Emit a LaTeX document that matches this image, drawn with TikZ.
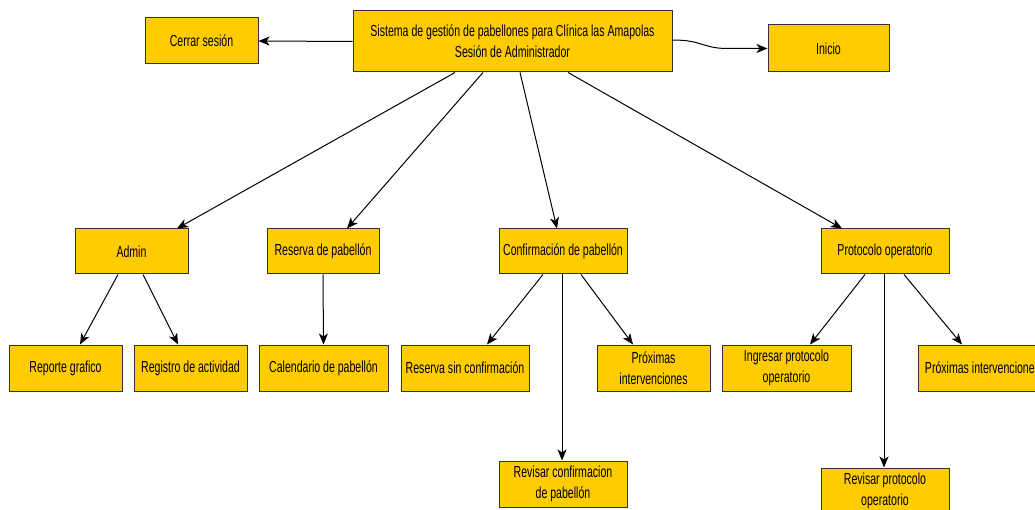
\documentclass[tikz,border=0pt]{standalone}
\usepackage{fontspec}
\setmainfont{Liberation Sans}[FakeStretch=0.66]
\usetikzlibrary{arrows.meta}
\definecolor{boxyellow}{HTML}{FFCC00}
\definecolor{boxline}{HTML}{333333}
\tikzset{
  box/.style={draw=boxline, line width=1pt, fill=boxyellow, rectangle, inner sep=0pt,
    align=center, font=\fontsize{16}{21}\selectfont, text=black},
  conn/.style={draw=black, line width=1pt, -{Stealth[length=11pt,width=9pt,inset=3pt]}}
}
\begin{document}
\begin{tikzpicture}[x=1pt,y=-1pt]
\useasboundingbox (0,0) rectangle (1035,510);
\clip (0,0) rectangle (1035,510);
% top level
\node[box, minimum width=319pt, minimum height=61pt] (main) at (512.5,41.5)
  {Sistema de gestión de pabellones para Clínica las Amapolas\\Sesión de Administrador};
\node[box, minimum width=113pt, minimum height=46pt] (cerrar) at (201.5,41) {Cerrar sesión};
\node[box, minimum width=121pt, minimum height=47pt] (inicio) at (828.5,48.5) {Inicio};
% second level
\node[box, minimum width=113pt, minimum height=45pt] (admin) at (131.5,251.5) {Admin};
\node[box, minimum width=112pt, minimum height=45pt] (reserva) at (323,251.5) {Reserva de pabellón};
\node[box, minimum width=128pt, minimum height=45pt] (confirm) at (563,251.5) {Confirmación de pabellón};
\node[box, minimum width=128pt, minimum height=45pt] (protocolo) at (885,251.5) {Protocolo operatorio};
% third level
\node[box, minimum width=113pt, minimum height=46pt] (reporte) at (65.5,368) {Reporte grafico};
\node[box, minimum width=113pt, minimum height=46pt] (registro) at (190.5,368) {Registro de actividad};
\node[box, minimum width=129pt, minimum height=46pt] (calendario) at (323.5,368) {Calendario de pabellón};
\node[box, minimum width=128pt, minimum height=46pt] (reservasin) at (465,368) {Reserva sin confirmación};
\node[box, minimum width=113pt, minimum height=46pt] (proximasA) at (653.5,368) {Próximas\\intervenciones};
\node[box, minimum width=129pt, minimum height=46pt] (ingresar) at (786.5,368) {Ingresar protocolo\\operatorio};
\node[box, minimum width=129pt, minimum height=46pt] (proximasB) at (982.5,368) {Próximas intervenciones};
% fourth level
\node[box, minimum width=128pt, minimum height=46pt] (revconf) at (563,484) {Revisar confirmacion\\de pabellón};
\node[box, minimum width=128pt, minimum height=46pt] (revprot) at (885,491) {Revisar protocolo\\operatorio};
% connectors
\coordinate (bend) at ([xshift=55pt]main.east |- inicio.west);
\draw[conn] ([yshift=1.5pt]main.east) .. controls +(30,0) and +(-25,0) .. (bend) -- (inicio.west);
\draw[conn] (main.west) -- (cerrar.east);
\draw[conn] ([xshift=-57.5pt]main.south) -- ([xshift=45.5pt]admin.north);
\draw[conn] ([xshift=-29.5pt]main.south) -- ([xshift=24pt]reserva.north);
\draw[conn] ([xshift=7.5pt]main.south) -- ([xshift=-6pt]confirm.north);
\draw[conn] ([xshift=55.5pt]main.south) -- ([xshift=-43pt]protocolo.north);
\draw[conn] ([xshift=-13.5pt]admin.south) -- ([xshift=14.5pt]reporte.north);
\draw[conn] ([xshift=11.5pt]admin.south) -- ([xshift=-12.5pt]registro.north);
\draw[conn] (reserva.south) -- (calendario.north);
\draw[conn] ([xshift=-20pt]confirm.south) -- ([xshift=22pt]reservasin.north);
\draw[conn] ([xshift=-1pt]confirm.south) -- ([xshift=-1pt]revconf.north);
\draw[conn] ([xshift=18pt]confirm.south) -- ([xshift=-20.5pt]proximasA.north);
\draw[conn] ([xshift=-20pt]protocolo.south) -- ([xshift=23.5pt]ingresar.north);
\draw[conn] ([xshift=-1pt]protocolo.south) -- ([xshift=-1pt]revprot.north);
\draw[conn] ([xshift=19pt]protocolo.south) -- ([xshift=-20.5pt]proximasB.north);
\end{tikzpicture}
\end{document}
